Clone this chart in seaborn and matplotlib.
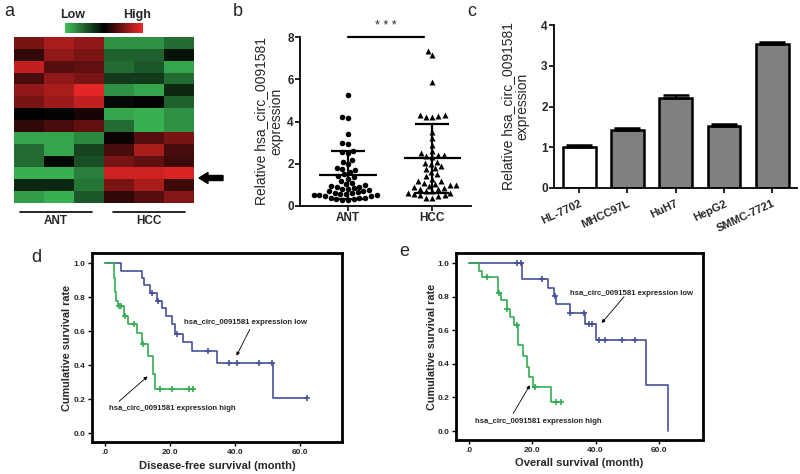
import numpy as np
import pandas as pd
import matplotlib
matplotlib.use('Agg')
import matplotlib.pyplot as plt
import seaborn as sns
from matplotlib.colors import LinearSegmentedColormap
from matplotlib.patches import FancyArrow
from matplotlib.lines import Line2D
import matplotlib.cm as cm
import matplotlib.colors as mcolors

# ---------------- data ----------------
# panel a heatmap (relative expression, -1 low ... 1 high)
heat_ant = [
    [0.5, 0.7, 0.6], [0.2, 0.6, 0.5], [0.8, 0.35, 0.4], [0.3, 0.6, 0.5],
    [0.6, 0.7, 0.95], [0.5, 0.65, 0.8], [0.0, -0.02, 0.1], [0.2, 0.3, 0.4],
    [-0.85, -0.85, -0.7], [-0.55, -0.85, -0.35], [-0.55, -0.05, -0.4],
    [-0.9, -0.9, -0.65], [-0.2, -0.2, -0.6], [-0.8, -0.9, -0.45],
]
heat_hcc = [
    [-0.75, -0.75, -0.55], [-0.5, -0.5, -0.1], [-0.55, -0.45, -0.85], [-0.3, -0.3, -0.55],
    [-0.75, -0.85, -0.2], [-0.05, -0.02, -0.5], [-0.85, -0.9, -0.75], [-0.55, -0.9, -0.75],
    [0.05, 0.35, 0.5], [0.3, 0.7, 0.3], [0.5, 0.4, 0.25],
    [0.85, 0.85, 0.9], [0.5, 0.7, 0.25], [0.2, 0.35, 0.55],
]
heat_groups = ['ANT', 'HCC']

# panel b scatter
groups_b = ['ANT', 'HCC']
ant_vals = [5.25, 4.15, 4.2, 3.4, 2.95, 3.0, 2.6, 2.55, 2.5, 2.2, 2.1, 2.0, 1.8, 1.75,
            1.7, 1.6, 1.5, 1.4, 1.35, 1.3, 1.2, 1.1, 1.05, 1.0, 0.95, 0.9, 0.85, 0.8,
            0.8, 0.75, 0.7, 0.7, 0.65, 0.6, 0.6, 0.55, 0.55, 0.5, 0.5, 0.45, 0.45,
            0.4, 0.4, 0.4, 0.35, 0.35, 0.3, 0.3, 0.5, 0.9]
hcc_vals = [7.35, 7.15, 5.85, 4.3, 4.3, 4.25, 4.2, 4.2, 3.5, 3.2, 2.9, 2.6, 2.5, 2.4,
            2.4, 2.35, 2.3, 2.1, 2.05, 2.0, 1.9, 1.8, 1.75, 1.6, 1.5, 1.4, 1.3, 1.2,
            1.2, 1.1, 1.05, 1.0, 1.0, 0.95, 0.9, 0.85, 0.8, 0.8, 0.7, 0.7, 0.6, 0.6,
            0.55, 0.5, 0.45, 0.4, 0.4, 0.5]
group_means = [1.47, 2.25]
group_sds = [1.13, 1.65]

# panel c bars
cell_lines = ['HL-7702', 'MHCC97L', 'HuH7', 'HepG2', 'SMMC-7721']
cell_vals = [1.0, 1.42, 2.2, 1.51, 3.53]
cell_err = [0.05, 0.06, 0.07, 0.06, 0.05]

# panel d disease-free survival (Kaplan-Meier steps)
dfs_low_t = [0, 5.0, 11.5, 12.1, 14.0, 15.9, 17.7, 18.8, 20.6, 21.6, 24.0, 26.9, 34.5, 51.8, 62.2]
dfs_low_s = [1.0, 0.955, 0.91, 0.87, 0.825, 0.78, 0.735, 0.69, 0.64, 0.585, 0.535, 0.48, 0.41, 0.205, 0.205]
dfs_low_ct = [14.6, 16.2, 22.3, 31.6, 38.2, 40.6, 47.5, 51.5, 62.2]
dfs_low_cs = [0.825, 0.78, 0.585, 0.48, 0.41, 0.41, 0.41, 0.41, 0.205]
dfs_high_t = [0, 2.7, 3.1, 3.5, 3.9, 5.8, 7.0, 9.9, 11.4, 13.4, 14.9, 15.4, 27.5]
dfs_high_s = [1.0, 0.91, 0.83, 0.78, 0.745, 0.69, 0.64, 0.59, 0.525, 0.455, 0.35, 0.26, 0.26]
dfs_high_ct = [4.4, 5.0, 6.1, 9.0, 11.8, 16.9, 20.5, 25.8, 27.2]
dfs_high_cs = [0.745, 0.745, 0.69, 0.64, 0.525, 0.26, 0.26, 0.26, 0.26]

# panel e overall survival
os_low_t = [0, 16.6, 24.8, 26.9, 27.5, 31.9, 36.6, 40.1, 56.1, 63.0]
os_low_s = [1.0, 0.905, 0.853, 0.805, 0.755, 0.70, 0.64, 0.545, 0.275, 0.0]
os_low_ct = [15.0, 16.4, 22.9, 27.0, 31.9, 36.2, 37.9, 38.7, 41.1, 42.9, 48.2, 52.4]
os_low_cs = [1.0, 1.0, 0.905, 0.805, 0.70, 0.70, 0.64, 0.64, 0.545, 0.545, 0.545, 0.545]
os_high_t = [0, 3.1, 3.9, 9.0, 9.9, 11.8, 12.9, 14.2, 15.3, 17.1, 18.2, 19.0, 20.3, 26.0, 29.0]
os_high_s = [1.0, 0.955, 0.917, 0.82, 0.778, 0.729, 0.68, 0.63, 0.51, 0.446, 0.38, 0.32, 0.26, 0.174, 0.174]
os_high_ct = [5.7, 9.5, 12.1, 15.0, 20.8, 27.6, 29.0]
os_high_cs = [0.917, 0.82, 0.729, 0.63, 0.26, 0.174, 0.174]

surv_ticks = [0.0, 0.2, 0.4, 0.6, 0.8, 1.0]
month_ticks = [0, 20, 40, 60]
month_labels = ['.0', '20.0', '40.0', '60.0']
label_low = 'hsa_circ_0091581 expression low'
label_high = 'hsa_circ_0091581 expression high'

# ---------------- style ----------------
sns.set_theme(style='white')
plt.rcParams['font.family'] = ['Liberation Sans', 'DejaVu Sans']

W, H = 800, 474
fig = plt.figure(figsize=(8, 4.74), dpi=100)


def ax_px(x0, y0, x1, y1):
    return fig.add_axes([x0 / W, 1 - y1 / H, (x1 - x0) / W, (y1 - y0) / H])


def fx(x):
    return x / W


def fy(y):
    return 1 - y / H


BLUE = '#44519a'
GREEN = '#32ad50'

# ---------------- panel a ----------------
cmap = LinearSegmentedColormap.from_list('gkr', ['#3ec25a', '#000000', '#f02828'])
axa = ax_px(14, 37, 194, 203)
heat = pd.DataFrame(np.hstack([np.array(heat_ant), np.array(heat_hcc)]))
sns.heatmap(heat, cmap=cmap, vmin=-1, vmax=1, cbar=False, xticklabels=False,
            yticklabels=False, ax=axa)

cax = ax_px(65, 23, 143, 33)
cb = fig.colorbar(cm.ScalarMappable(norm=mcolors.Normalize(-1, 1), cmap=cmap), cax=cax,
                  orientation='horizontal')
cb.outline.set_visible(False)
cax.set_xticks([])
fig.text(fx(73), fy(15), 'Low', ha='center', va='center', fontsize=9, fontweight='bold')
fig.text(fx(137), fy(15), 'High', ha='center', va='center', fontsize=9, fontweight='bold')

for (x0, x1), g in zip([(20, 92), (113, 185)], heat_groups):
    fig.add_artist(Line2D([fx(x0), fx(x1)], [fy(212), fy(212)], color='black', lw=1.2))
    fig.text(fx((x0 + x1) / 2), fy(221), g, ha='center', va='center', fontsize=8.5,
             fontweight='bold')

fig.add_artist(FancyArrow(fx(223), fy(178), -(24 / W), 0, width=5 / H, head_width=11 / H,
                          head_length=9 / W, length_includes_head=True,
                          transform=fig.transFigure, color='black'))

# ---------------- panel b ----------------
axb = ax_px(300, 37, 471, 206)
df_b = pd.DataFrame({'group': ['ANT'] * len(ant_vals) + ['HCC'] * len(hcc_vals),
                     'value': ant_vals + hcc_vals})
sns.swarmplot(data=df_b[df_b.group == 'ANT'], x='group', y='value', order=groups_b,
              marker='o', color='black', size=4.0, linewidth=0, ax=axb)
sns.swarmplot(data=df_b[df_b.group == 'HCC'], x='group', y='value', order=groups_b,
              marker='^', color='black', size=4.3, linewidth=0, ax=axb)
for i, (m, s) in enumerate(zip(group_means, group_sds)):
    axb.hlines(m, i - 0.34, i + 0.34, color='black', lw=1.6, zorder=5)
    axb.vlines(i, m - s, m + s, color='black', lw=1.6, zorder=5)
    axb.hlines([m - s, m + s], i - 0.2, i + 0.2, color='black', lw=1.6, zorder=5)
axb.plot([0.0, 0.9], [8.0, 8.0], color='black', lw=1.6, clip_on=False)
axb.text(0.45, 8.25, '* * *', ha='center', va='bottom', fontsize=9)
axb.set_xlim(-0.57, 1.46)
axb.set_ylim(0, 8)
axb.set_yticks([0, 2, 4, 6, 8])
axb.set_xlabel('')
axb.set_ylabel('Relative hsa_circ_0091581\nexpression', fontsize=10, linespacing=1.05)
axb.yaxis.set_label_coords(-0.10, 0.5)
sns.despine(ax=axb)
for sp in ['left', 'bottom']:
    axb.spines[sp].set_linewidth(1.3)
    axb.spines[sp].set_color('black')
axb.tick_params(axis='both', direction='out', length=3.5, width=1.2, color='black',
                left=True, bottom=True, labelsize=8.5, pad=1)
for lab in axb.get_xticklabels() + axb.get_yticklabels():
    lab.set_fontweight('bold')

# ---------------- panel c ----------------
axc = ax_px(554, 25, 797, 188)
bar_colors = ['white', '#808080', '#808080', '#808080', '#808080']
sns.barplot(x=cell_lines, y=cell_vals, hue=cell_lines, palette=bar_colors, legend=False,
            width=0.68, edgecolor='black', linewidth=1.8, errorbar=None, ax=axc)
axc.errorbar(range(len(cell_lines)), cell_vals, yerr=[np.zeros(len(cell_err)), cell_err],
             fmt='none', ecolor='black', elinewidth=1.6, capsize=9.5, capthick=1.8)
axc.set_xlim(-0.52, 4.51)
axc.set_ylim(0, 4)
axc.set_yticks([0, 1, 2, 3, 4])
axc.set_ylabel('Relative hsa_circ_0091581\nexpression', fontsize=10, linespacing=1.05)
axc.yaxis.set_label_coords(-0.10, 0.5)
sns.despine(ax=axc)
for sp in ['left', 'bottom']:
    axc.spines[sp].set_linewidth(1.3)
    axc.spines[sp].set_color('black')
axc.tick_params(axis='both', direction='out', length=3.5, width=1.2, color='black',
                left=True, bottom=True, labelsize=8.5, pad=1)
axc.set_xticks(range(len(cell_lines)))
axc.set_xticklabels(cell_lines, rotation=25, ha='right', rotation_mode='anchor',
                    fontsize=8, fontweight='bold')
axc.tick_params(axis='x', pad=4)
for lab in axc.get_yticklabels():
    lab.set_fontweight('bold')


# ---------------- panels d & e ----------------
def km_panel(ax, lt, ls, lct, lcs, ht, hs, hct, hcs, xlabel, xlim, txt):
    sns.lineplot(x=lt, y=ls, drawstyle='steps-post', estimator=None, sort=False,
                 color=BLUE, lw=1.2, ax=ax)
    sns.lineplot(x=ht, y=hs, drawstyle='steps-post', estimator=None, sort=False,
                 color=GREEN, lw=1.2, ax=ax)
    ax.plot(lct, lcs, ls='none', marker='+', ms=4, mew=1.2, color=BLUE)
    ax.plot(hct, hcs, ls='none', marker='+', ms=4, mew=1.2, color=GREEN)
    ax.set_xlim(*xlim)
    ax.set_ylim(-0.053, 1.06)
    ax.set_xticks(month_ticks)
    ax.set_xticklabels(month_labels)
    ax.set_yticks(surv_ticks)
    ax.set_yticklabels(['%.1f' % v for v in surv_ticks])
    for sp in ax.spines.values():
        sp.set_visible(True)
        sp.set_linewidth(2.0)
        sp.set_color('black')
    ax.tick_params(axis='both', direction='out', length=3, width=1.0, color='black',
                   left=True, bottom=True, labelsize=6, pad=2)
    for lab in ax.get_xticklabels() + ax.get_yticklabels():
        lab.set_fontweight('bold')
    ax.set_xlabel(xlabel, fontsize=8, fontweight='bold')
    ax.set_ylabel('Cumulative survival rate', fontsize=7.8, fontweight='bold')
    (lowpos, lowtail, lowhead, highpos, hightail, highhead, ylc, xly) = txt
    ax.yaxis.set_label_coords(ylc, 0.5)
    ax.xaxis.set_label_coords(0.5, xly)
    ax.text(*lowpos, label_low, ha='center', va='center', fontsize=5.6, fontweight='bold')
    ax.text(*highpos, label_high, ha='center', va='center', fontsize=5.6, fontweight='bold')
    for tail, head in [(lowtail, lowhead), (hightail, highhead)]:
        ax.annotate('', xy=head, xytext=tail,
                    arrowprops=dict(arrowstyle='-|>', color='black', lw=0.6,
                                    mutation_scale=5, shrinkA=0, shrinkB=0))


axd = ax_px(92, 253, 342, 442)
km_panel(axd, dfs_low_t, dfs_low_s, dfs_low_ct, dfs_low_cs,
         dfs_high_t, dfs_high_s, dfs_high_ct, dfs_high_cs,
         'Disease-free survival (month)', (-4, 73),
         ((43.2, 0.65), (44.6, 0.61), (40.5, 0.455),
          (20.6, 0.144), (4.3, 0.186), (13.1, 0.333), -0.08, -0.10))

axe = ax_px(456, 253, 703, 440)
km_panel(axe, os_low_t, os_low_s, os_low_ct, os_low_cs,
         os_high_t, os_high_s, os_high_ct, os_high_cs,
         'Overall survival (month)', (-4.2, 74),
         ((51.4, 0.818), (49.0, 0.80), (41.9, 0.643),
          (21.8, 0.055), (13.9, 0.105), (19.2, 0.273), -0.077, -0.096))

# ---------------- panel letters ----------------
for (x, y), letter in zip([(9, 12), (238, 12), (472, 12), (36, 258), (404, 252)],
                          ['a', 'b', 'c', 'd', 'e']):
    fig.text(fx(x), fy(y), letter, ha='center', va='center', fontsize=13)

fig.savefig('out.png', dpi=100)
